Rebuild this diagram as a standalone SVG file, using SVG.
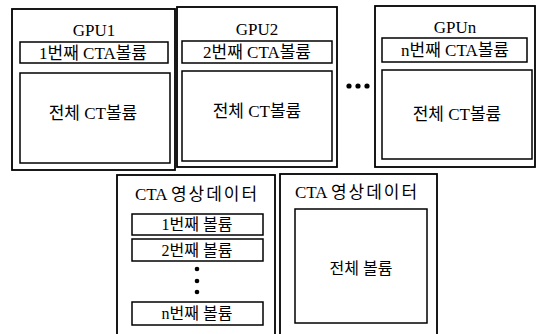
<svg xmlns="http://www.w3.org/2000/svg" width="537" height="334" viewBox="0 0 537 334">
<style>
.box{fill:none;stroke:#000;stroke-width:1.8}
.in{fill:none;stroke:#000;stroke-width:1.5}
text{font-family:"Liberation Serif","Noto Sans CJK KR",serif;font-size:16px;fill:#000;text-anchor:middle}
.t{font-size:17px}
.k{font-size:17px}
.h{font-size:17px}
.ks{letter-spacing:2px}
.dot{fill:#000}
</style>
<rect width="537" height="334" fill="#fff"/>
<g id="gpu1">
<rect class="box" x="12" y="9" width="163" height="161"/>
<text class="t" x="94" y="36">GPU1</text>
<rect class="in" x="20" y="42" width="148" height="21"/>
<text class="k" x="93" y="58.5">1번째 CTA볼륨</text>
<rect class="in" x="20" y="73" width="150" height="90"/>
<text class="k" x="93" y="119">전체 CT볼륨</text>
</g>
<g id="gpu2">
<rect class="box" x="177" y="7" width="160" height="160"/>
<text class="t" x="257" y="35">GPU2</text>
<rect class="in" x="182" y="41" width="150" height="22"/>
<text class="k" x="257" y="58">2번째 CTA볼륨</text>
<rect class="in" x="182" y="71" width="150" height="90"/>
<text class="k" x="257" y="117">전체 CT볼륨</text>
</g>
<g id="ellipsis">
<circle class="dot" cx="349" cy="86" r="2.6"/>
<circle class="dot" cx="358" cy="86" r="2.6"/>
<circle class="dot" cx="367" cy="86" r="2.6"/>
</g>
<g id="gpun">
<rect class="box" x="375" y="6" width="160" height="161"/>
<text class="t" x="455" y="33">GPUn</text>
<rect class="in" x="382" y="38" width="145" height="24"/>
<text class="k" x="455" y="56">n번째 CTA볼륨</text>
<rect class="in" x="382" y="70" width="150" height="89"/>
<text class="k" x="457" y="120">전체 CT볼륨</text>
</g>
<g id="cta-split">
<rect class="box" x="117" y="175" width="158" height="170"/>
<text class="h" x="197" y="200">CTA <tspan class="ks">영상데이터</tspan></text>
<rect class="in" x="132" y="214" width="131" height="21"/>
<text x="197" y="230">1번째 볼륨</text>
<rect class="in" x="132" y="239" width="131" height="22"/>
<text x="197" y="256">2번째 볼륨</text>
<circle class="dot" cx="197" cy="269" r="2.3"/>
<circle class="dot" cx="197" cy="281" r="2.3"/>
<circle class="dot" cx="197" cy="292" r="2.3"/>
<rect class="in" x="132" y="302" width="131" height="23"/>
<text x="197" y="319">n번째 볼륨</text>
</g>
<g id="cta-whole">
<rect class="box" x="280" y="174" width="157" height="170"/>
<text class="h" x="357" y="198">CTA <tspan class="ks">영상데이터</tspan></text>
<rect class="in" x="295" y="209" width="132" height="114"/>
<text x="361" y="274">전체 볼륨</text>
</g>
<g id="connectors"></g>
</svg>
